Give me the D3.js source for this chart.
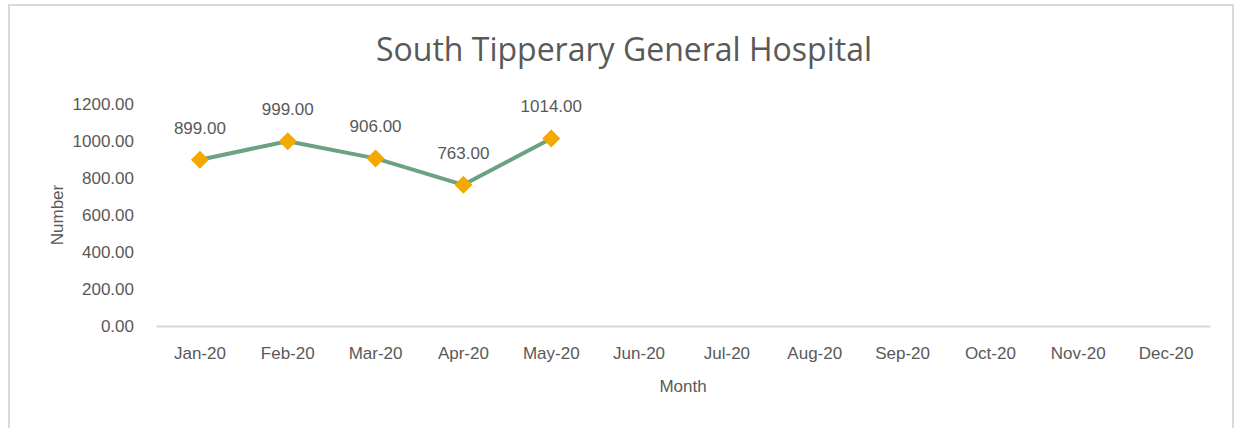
<!DOCTYPE html>
<html>
<head>
<meta charset="utf-8">
<script src="https://cdn.jsdelivr.net/npm/d3@7"></script>
<style>
	body { margin: 0; background: #fff; }
	svg text { fill: #595959; }
	.narrow { font-family: "Liberation Sans Narrow", "Arial Narrow", "Liberation Sans", sans-serif; }
</style>
</head>
<body>
<div id="chart"></div>
<script>
var months = ['Jan-20', 'Feb-20', 'Mar-20', 'Apr-20', 'May-20', 'Jun-20',
	'Jul-20', 'Aug-20', 'Sep-20', 'Oct-20', 'Nov-20', 'Dec-20'];
var values = [899, 999, 906, 763, 1014];
var yTicks = [0, 200, 400, 600, 800, 1000, 1200];

var width = 1234, height = 428;
var margin = { top: 104, right: 24, bottom: 102, left: 156 };

var svg = d3.select('#chart').append('svg')
	.attr('width', width)
	.attr('height', height);

// chart frame
svg.append('rect')
	.attr('x', 9).attr('y', 5)
	.attr('width', width - 10).attr('height', height)
	.attr('fill', 'none')
	.attr('stroke', '#d9d9d9')
	.attr('stroke-width', 2);

var x = d3.scaleBand()
	.domain(months)
	.range([margin.left, width - margin.right]);

var y = d3.scaleLinear()
	.domain([0, 1200])
	.range([height - margin.bottom, margin.top]);

// title
svg.append('text')
	.attr('x', 624).attr('y', 61)
	.attr('text-anchor', 'middle')
	.style('font-family', '"Open Sans", "Noto Sans", sans-serif')
	.style('font-size', '32px')
	.text('South Tipperary General Hospital');

// y axis labels (no line)
var yAxis = svg.append('g')
	.attr('class', 'narrow')
	.attr('transform', 'translate(' + (margin.left - 19) + ',0)')
	.call(d3.axisLeft(y).tickValues(yTicks).tickSize(0).tickFormat(d3.format('.2f')));
yAxis.select('.domain').remove();
yAxis.selectAll('text')
	.attr('dy', '0.35em')
	.style('font-size', '17px')
	.style('font-family', null)
	.attr('fill', '#595959');

// x axis
var xAxis = svg.append('g')
	.attr('class', 'narrow')
	.attr('transform', 'translate(0,' + y(0) + ')')
	.call(d3.axisBottom(x).tickSize(0).tickPadding(21));
xAxis.select('.domain')
	.attr('stroke', '#d9d9d9')
	.attr('stroke-width', 2);
xAxis.selectAll('text')
	.style('font-size', '17px')
	.style('font-family', null)
	.attr('fill', '#595959');

// axis titles
svg.append('text')
	.attr('class', 'narrow')
	.attr('x', (margin.left + width - margin.right) / 2)
	.attr('y', 392)
	.attr('text-anchor', 'middle')
	.style('font-size', '17px')
	.text('Month');

svg.append('text')
	.attr('class', 'narrow')
	.attr('transform', 'translate(63,' + ((y(0) + y(1200)) / 2) + ') rotate(-90)')
	.attr('text-anchor', 'middle')
	.style('font-size', '17px')
	.text('Number');

// series
var cx = function(d, i) { return x(months[i]) + x.bandwidth() / 2; };

svg.append('path')
	.datum(values)
	.attr('fill', 'none')
	.attr('stroke', '#6aa283')
	.attr('stroke-width', 4)
	.attr('stroke-linejoin', 'round')
	.attr('d', d3.line().x(cx).y(function(d) { return y(d); }));

svg.selectAll('path.marker')
	.data(values)
	.enter()
	.append('path')
	.attr('class', 'marker')
	.attr('d', 'M0,-9L9,0L0,9L-9,0Z')
	.attr('fill', '#f4a900')
	.attr('transform', function(d, i) { return 'translate(' + cx(d, i) + ',' + y(d) + ')'; });

svg.selectAll('text.label')
	.data(values)
	.enter()
	.append('text')
	.attr('class', 'label narrow')
	.attr('x', cx)
	.attr('y', function(d) { return y(d) - 26; })
	.attr('text-anchor', 'middle')
	.style('font-size', '17px')
	.text(function(d) { return d.toFixed(2); });
</script>
</body>
</html>
